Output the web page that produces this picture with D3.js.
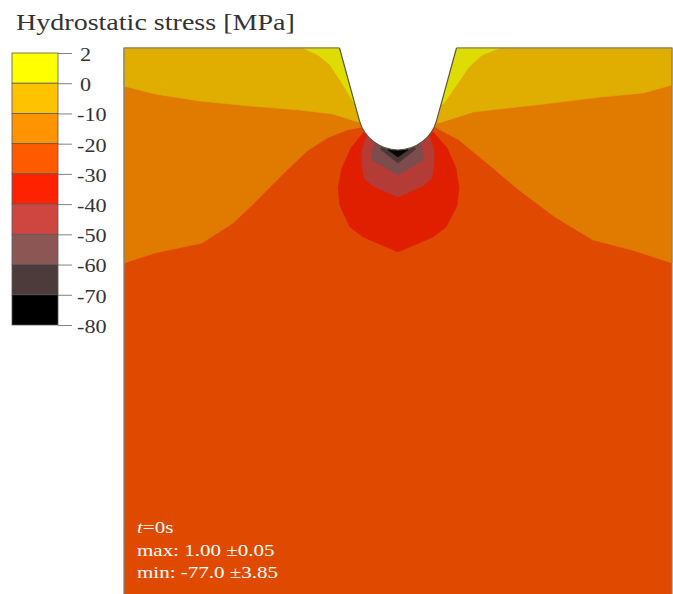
<!DOCTYPE html>
<html>
<head>
<meta charset="utf-8">
<script src="https://cdn.jsdelivr.net/npm/d3@7"></script>
<style>
  html, body { margin: 0; padding: 0; background: #fff; }
  svg { display: block; }
</style>
</head>
<body>
<svg id="chart" width="673" height="594"></svg>
<script>
// Contour levels of the hydrostatic stress (MPa), top of the colour bar first
const levels = [2, 0, -10, -20, -30, -40, -50, -60, -70, -80];
const barColors = ["#ffff00", "#ffc200", "#ff9300", "#ff5a00", "#ff2200", "#cf4641", "#8c5655", "#4d3b3b", "#000000"];
const fieldColors = ["#dedc00", "#dfae00", "#e07b00", "#e04a00", "#e01f00", "#b53c36", "#7d4c4c", "#4a3737", "#0a0505"];

// Specimen section (mm): notch axis at x = 0, depth y measured down from the top surface
const sectionX = [-2.74, 2.74];
const sectionY = [0, 5.46];
// Notch: opening half-width, root radius and depth of the root-circle centre (mm)
const notchHalfWidth = 0.585, notchRadius = 0.40, notchCentreDepth = 0.62;

// Iso-band regions as [x, y] in mm. Each one is painted over the -20..-30 field;
// points that fall inside the notch are hidden by the notch itself.
const regionAbove20 = [[-2.74, 0], [-2.74, 2.15], [-2.43, 2.05], [-1.96, 1.95], [-1.65, 1.75], [-1.48, 1.59],
  [-1.31, 1.42], [-1.11, 1.22], [-0.91, 1.03], [-0.71, 0.90], [-0.51, 0.82], [-0.36, 0.79],
  [-0.22, 0.87], [0.22, 0.87],
  [0.37, 0.79], [0.61, 0.92], [0.89, 1.15], [1.21, 1.42], [1.57, 1.69], [1.95, 1.92], [2.34, 2.02],
  [2.74, 2.15], [2.74, 0]];
const regionAbove10 = [[-2.74, 0], [-2.74, 0.38], [-2.43, 0.46], [-1.98, 0.53], [-1.48, 0.58], [-0.98, 0.62],
  [-0.65, 0.66], [-0.43, 0.73], [-0.26, 0.78], [0.26, 0.78],
  [0.44, 0.74], [0.75, 0.64], [1.46, 0.56], [2.02, 0.49], [2.45, 0.45], [2.74, 0.37], [2.74, 0]];
const regionAbove0Left = [[-0.95, 0], [-0.80, 0.07], [-0.68, 0.17], [-0.58, 0.32], [-0.50, 0.45],
  [-0.44, 0.55], [-0.23, 0.55], [-0.23, 0]];
const regionAbove0Right = [[1.02, 0], [0.84, 0.07], [0.70, 0.20], [0.60, 0.35], [0.51, 0.48],
  [0.45, 0.56], [0.23, 0.56], [0.23, 0]];
const regionBelow30 = [[-0.26, 0.78], [-0.35, 0.85], [-0.47, 1.00], [-0.56, 1.20], [-0.60, 1.40], [-0.58, 1.58],
  [-0.48, 1.79], [-0.35, 1.89], [0, 2.04], [0.35, 1.89], [0.48, 1.79], [0.59, 1.58], [0.61, 1.40],
  [0.58, 1.20], [0.49, 1.00], [0.36, 0.85], [0.26, 0.78]];
const regionBelow40 = [[-0.26, 0.82], [-0.32, 0.90], [-0.36, 1.02], [-0.36, 1.17], [-0.34, 1.30], [-0.25, 1.38],
  [0, 1.49], [0.25, 1.38], [0.34, 1.30], [0.36, 1.17], [0.36, 1.02], [0.32, 0.90], [0.26, 0.82]];
const regionBelow50 = [[-0.16, 0.88], [-0.23, 0.95], [-0.26, 1.04], [-0.26, 1.12], [0, 1.27],
  [0.25, 1.12], [0.25, 1.04], [0.23, 0.95], [0.16, 0.88]];
const regionBelow60 = [[-0.08, 0.93], [-0.15, 0.98], [-0.18, 1.01], [0, 1.15], [0.18, 1.01], [0.15, 0.98], [0.08, 0.93]];
const regionBelow70 = [[-0.04, 0.98], [-0.10, 1.02], [0, 1.09], [0.10, 1.02], [0.04, 0.98]];

// Paint order: region and index of its colour in fieldColors
const layers = [
  [regionAbove20, 2], [regionAbove10, 1], [regionAbove0Left, 0], [regionAbove0Right, 0],
  [regionBelow30, 4], [regionBelow40, 5], [regionBelow50, 6], [regionBelow60, 7], [regionBelow70, 8]
];

const annotation = { time: "0s", max: "1.00 \u00b10.05", min: "-77.0 \u00b13.85" };

const svg = d3.select("#chart");
const serif = "'Liberation Serif', 'Times New Roman', serif";

const x = d3.scaleLinear().domain(sectionX).range([124, 672]);
const y = d3.scaleLinear().domain(sectionY).range([48, 594]);
const line = d3.line().x(d => x(d[0])).y(d => y(d[1])).curve(d3.curveLinearClosed);

// ---- contour field ----
const field = svg.append("g");
field.append("rect")
  .attr("x", x(sectionX[0])).attr("y", y(sectionY[0]))
  .attr("width", x(sectionX[1]) - x(sectionX[0]))
  .attr("height", y(sectionY[1]) - y(sectionY[0]))
  .attr("fill", fieldColors[3]);

field.selectAll("path.band")
  .data(layers)
  .join("path")
  .attr("class", "band")
  .attr("d", d => line(d[0]))
  .attr("fill", d => fieldColors[d[1]])
  .attr("stroke", d => fieldColors[d[1]])
  .attr("stroke-width", 0.6)
  .attr("stroke-linejoin", "round");

// frame of the section
field.append("rect")
  .attr("x", x(sectionX[0])).attr("y", y(sectionY[0]))
  .attr("width", x(sectionX[1]) - x(sectionX[0]))
  .attr("height", y(sectionY[1]) - y(sectionY[0]) + 2)
  .attr("fill", "none")
  .attr("stroke", "#86806a")
  .attr("stroke-width", 1.2);

// ---- notch (tangent flanks + circular root) ----
const k = x(1) - x(0);                      // px per mm (same on both axes)
const cx = x(0), cy = y(notchCentreDepth), r = notchRadius * k;
const px = x(-notchHalfWidth) - cx, py = y(0) - cy;
const dist = Math.hypot(px, py);
const base = Math.atan2(py, px);
const aLeft = base - Math.acos(r / dist) + 2 * Math.PI; // tangent angle on the left flank
const aRight = Math.PI - aLeft;                          // mirror on the right flank
const tL = [cx + r * Math.cos(aLeft), cy + r * Math.sin(aLeft)];
const tR = [cx + r * Math.cos(aRight), cy + r * Math.sin(aRight)];

function notchPath(closed) {
  const p = d3.path();
  p.moveTo(x(-notchHalfWidth), y(0));
  p.lineTo(tL[0], tL[1]);
  p.arc(cx, cy, r, aLeft, aRight, true);
  p.lineTo(x(notchHalfWidth), y(0));
  if (closed) {
    p.lineTo(x(notchHalfWidth), y(0) - 4);
    p.lineTo(x(-notchHalfWidth), y(0) - 4);
    p.closePath();
  }
  return p.toString();
}
svg.append("path").attr("d", notchPath(true)).attr("fill", "#fff");
svg.append("path").attr("d", notchPath(false))
  .attr("fill", "none").attr("stroke", "#5a5648").attr("stroke-width", 1.2);

// ---- annotation inside the section ----
const note = svg.append("g")
  .attr("transform", "translate(137,533) scale(1.2,1)")
  .attr("font-family", serif).attr("font-size", 17.5).attr("fill", "#fff");
const t0 = note.append("text").attr("x", 0).attr("y", 0);
t0.append("tspan").attr("font-style", "italic").text("t");
t0.append("tspan").text("=" + annotation.time);
note.append("text").attr("x", 0).attr("y", 23).text("max: " + annotation.max);
note.append("text").attr("x", 0).attr("y", 45).text("min: " + annotation.min);

// ---- colour bar ----
const barX0 = 12, barX1 = 58;
const yBar = d3.scaleLinear().domain([0, levels.length - 1]).range([53, 325]);
const bar = svg.append("g");
bar.selectAll("rect.swatch")
  .data(barColors)
  .join("rect")
  .attr("class", "swatch")
  .attr("x", barX0).attr("width", barX1 - barX0)
  .attr("y", (d, i) => yBar(i)).attr("height", (d, i) => yBar(i + 1) - yBar(i))
  .attr("fill", d => d)
  .attr("stroke", "#5a5a5a").attr("stroke-width", 0.8);

const axis = d3.axisRight(yBar)
  .tickValues(d3.range(levels.length))
  .tickFormat(i => String(levels[i]))
  .tickSize(14).tickPadding(5);
const ax = bar.append("g").attr("transform", `translate(${barX1},0)`).call(axis);
ax.select(".domain").remove();
ax.selectAll(".tick line").attr("stroke", "#808080").attr("stroke-width", 1);
ax.selectAll(".tick text")
  .attr("font-family", serif).attr("font-size", 18.5).attr("fill", "#333")
  .attr("transform", "scale(1.2,1)")
  .attr("x", (i) => (levels[i] >= 0 ? 22 : 19) / 1.2)
  .attr("dy", "0.4em");

// ---- title ----
svg.append("text")
  .attr("transform", "translate(16,30) scale(1.22,1)")
  .attr("font-family", serif).attr("font-size", 23).attr("fill", "#333")
  .text("Hydrostatic stress [MPa]");
</script>
</body>
</html>
